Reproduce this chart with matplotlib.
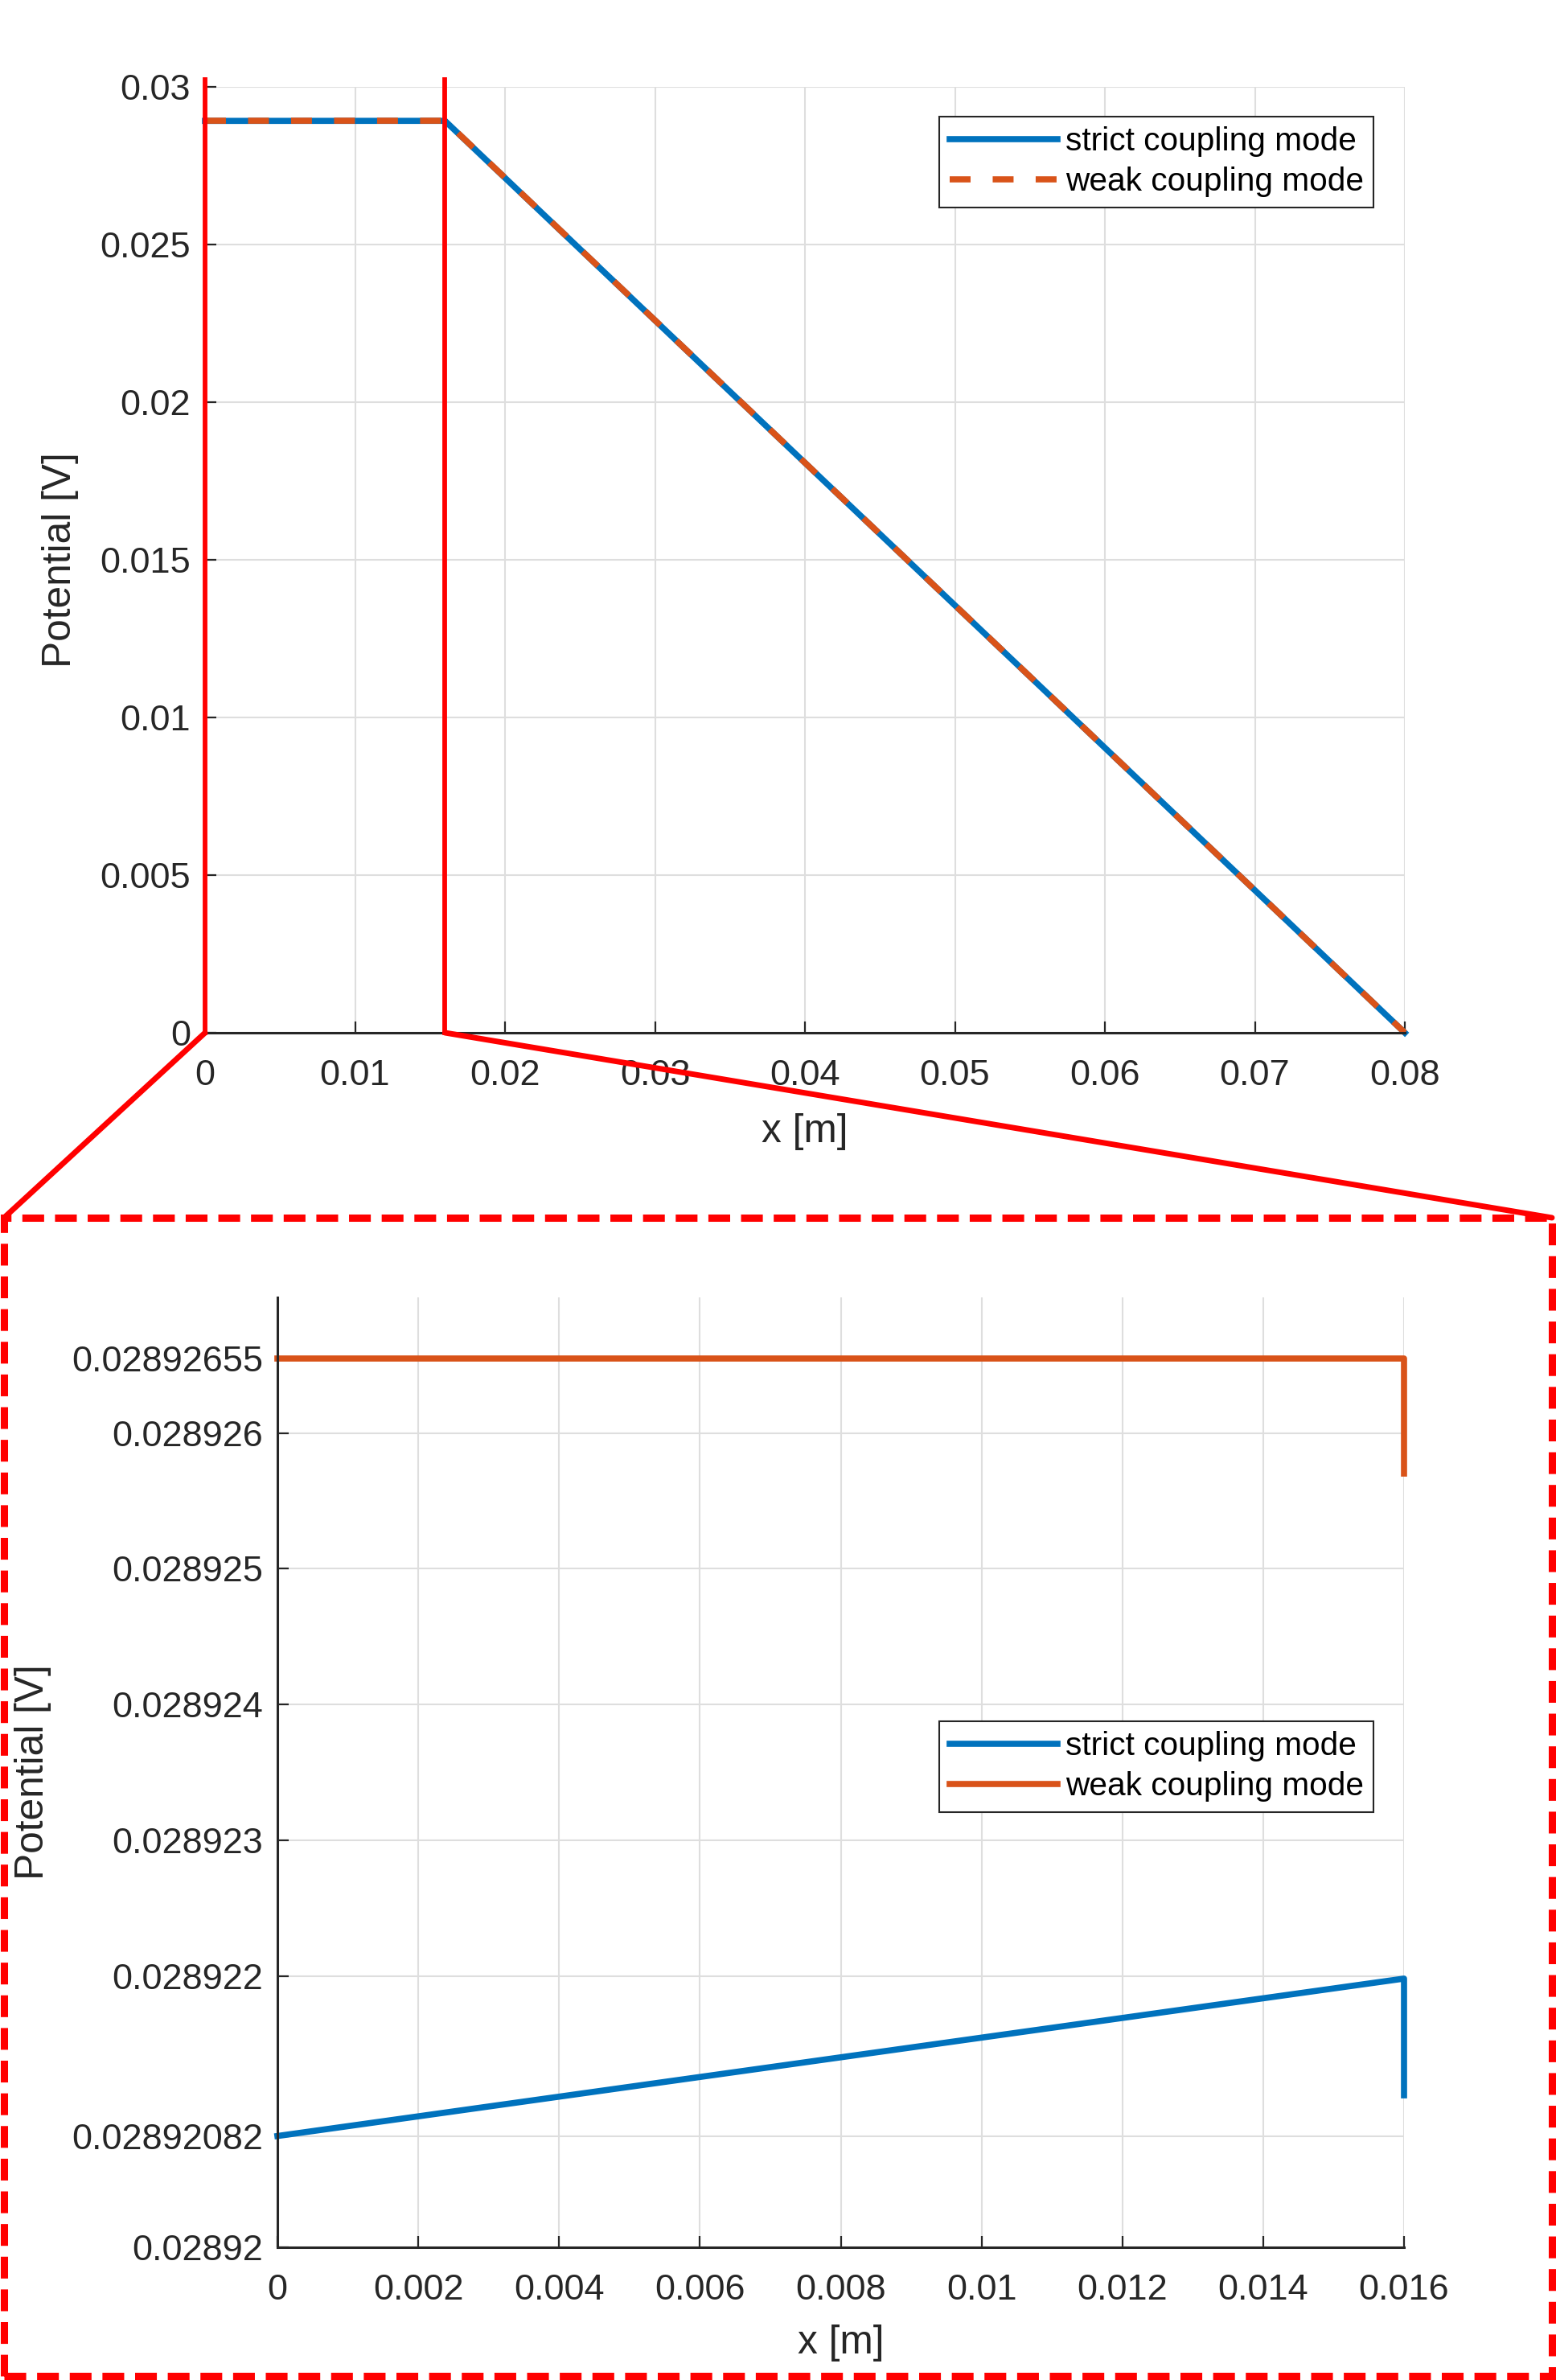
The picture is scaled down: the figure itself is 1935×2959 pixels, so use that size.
import matplotlib
matplotlib.use("Agg")
import matplotlib.pyplot as plt
from matplotlib.patches import Rectangle, ConnectionPatch

plt.rcParams['font.family'] = ['Liberation Sans', 'DejaVu Sans']

# potential along x, two coupling modes (interface at x = 0.016)
x_pos = [0.0, 0.016, 0.016, 0.08]
strict_v = [0.02892082, 0.02892198, 0.02892112, 0.0]
weak_v = [0.02892655, 0.02892655, 0.0289257, 0.0]

labels = ["strict coupling mode", "weak coupling mode"]

top_xticks = [0, 0.01, 0.02, 0.03, 0.04, 0.05, 0.06, 0.07, 0.08]
top_xlabels = ["0", "0.01", "0.02", "0.03", "0.04", "0.05", "0.06", "0.07", "0.08"]
top_yticks = [0, 0.005, 0.01, 0.015, 0.02, 0.025, 0.03]
top_ylabels = ["0", "0.005", "0.01", "0.015", "0.02", "0.025", "0.03"]

zoom_xticks = [0, 0.002, 0.004, 0.006, 0.008, 0.01, 0.012, 0.014, 0.016]
zoom_xlabels = ["0", "0.002", "0.004", "0.006", "0.008", "0.01", "0.012", "0.014", "0.016"]
zoom_yticks = [0.02892, 0.02892082, 0.028922, 0.028923, 0.028924, 0.028925, 0.028926, 0.02892655]
zoom_ylabels = ["0.02892", "0.02892082", "0.028922", "0.028923", "0.028924", "0.028925", "0.028926", "0.02892655"]
zoom_ylim = [0.02892, 0.028927]

BLUE = "#0072BD"
ORANGE = "#D95319"
RED = "#FF0000"
W, H = 1935, 2959


def style_axes(ax):
    ax.grid(True, color="#dedede", linewidth=1.5)
    ax.set_axisbelow(True)
    for s in ["top", "right"]:
        ax.spines[s].set_visible(False)
    for s in ["left", "bottom"]:
        ax.spines[s].set_color("#262626")
        ax.spines[s].set_linewidth(2.2)
    ax.tick_params(direction="in", length=10, width=1.6, colors="#262626", labelsize=32.5)
    ax.tick_params(axis="x", pad=24)
    ax.tick_params(axis="y", pad=13)


def add_legend(ax, top_px):
    leg = ax.legend(loc="upper right", bbox_to_anchor=(1708 / W, 1 - top_px / H),
                    bbox_transform=fig.transFigure, borderaxespad=0,
                    fontsize=29.25, handlelength=3.3, handletextpad=0.25,
                    borderpad=0.3, labelspacing=0.3, fancybox=False, framealpha=1)
    leg.get_frame().set_edgecolor("#262626")
    leg.get_frame().set_linewidth(1.5)
    return leg


fig = plt.figure(figsize=(W / 100, H / 100), dpi=100)

# full domain
ax1 = fig.add_axes([255 / W, 1 - 1284 / H, 1492 / W, 1176 / H])
ax1.plot(x_pos, strict_v, color=BLUE, lw=5.5, label=labels[0], clip_on=False)
ax1.plot(x_pos, weak_v, color=ORANGE, lw=5.5, dashes=(3.4, 3.6), label=labels[1], clip_on=False)
ax1.set_xlim(0, 0.08)
ax1.set_ylim(0, 0.03)
ax1.set_xticks(top_xticks, top_xlabels)
ax1.set_yticks(top_yticks, top_ylabels)
style_axes(ax1)
ax1.set_xlabel("x [m]", fontsize=35.75, color="#262626")
ax1.set_ylabel("Potential [V]", fontsize=35.75, color="#262626")
ax1.xaxis.set_label_coords(0.5, -0.1046)
ax1.xaxis.label.set_va("center")
ax1.yaxis.set_label_coords(-0.1206, 0.5)
ax1.yaxis.label.set_va("center")
add_legend(ax1, 145)

# zoom window markers
for xv in [0, zoom_xticks[-1]]:
    ax1.plot([xv, xv], [0, 0.03023], color=RED, lw=4.2, clip_on=False, zorder=5)

# zoomed region
ax2 = fig.add_axes([345 / W, 1 - 2794 / H, 1401 / W, 1181 / H])
ax2.plot(x_pos[:3], strict_v[:3], color=BLUE, lw=5.5, label=labels[0], clip_on=False)
ax2.plot(x_pos[:3], weak_v[:3], color=ORANGE, lw=5.5, label=labels[1], clip_on=False)
ax2.set_xlim(0, 0.016)
ax2.set_ylim(zoom_ylim)
ax2.set_xticks(zoom_xticks, zoom_xlabels)
ax2.set_yticks(zoom_yticks, zoom_ylabels)
style_axes(ax2)
ax2.set_xlabel("x [m]", fontsize=35.75, color="#262626")
ax2.set_ylabel("Potential [V]", fontsize=35.75, color="#262626")
ax2.xaxis.set_label_coords(0.5, -0.1008)
ax2.xaxis.label.set_va("center")
ax2.yaxis.set_label_coords(-0.217, 0.5)
ax2.yaxis.label.set_va("center")
add_legend(ax2, 2140)

# dashed frame round the zoom and the two connectors
x0, x1 = 5 / W, 1930 / W
y0, y1 = 1 - 2954 / H, 1 - 1514 / H
fig.add_artist(Rectangle((x0, y0), x1 - x0, y1 - y0, transform=fig.transFigure,
                         fill=False, edgecolor=RED, lw=6.5, linestyle=(0, (3, 1.5))))
for xv, corner in [(0, x0), (zoom_xticks[-1], x1)]:
    con = ConnectionPatch(xyA=(xv, 0), coordsA=ax1.transData, xyB=(corner, y1),
                          coordsB=fig.transFigure, color=RED, lw=5)
    fig.add_artist(con)

fig.savefig("out.png", dpi=100)
